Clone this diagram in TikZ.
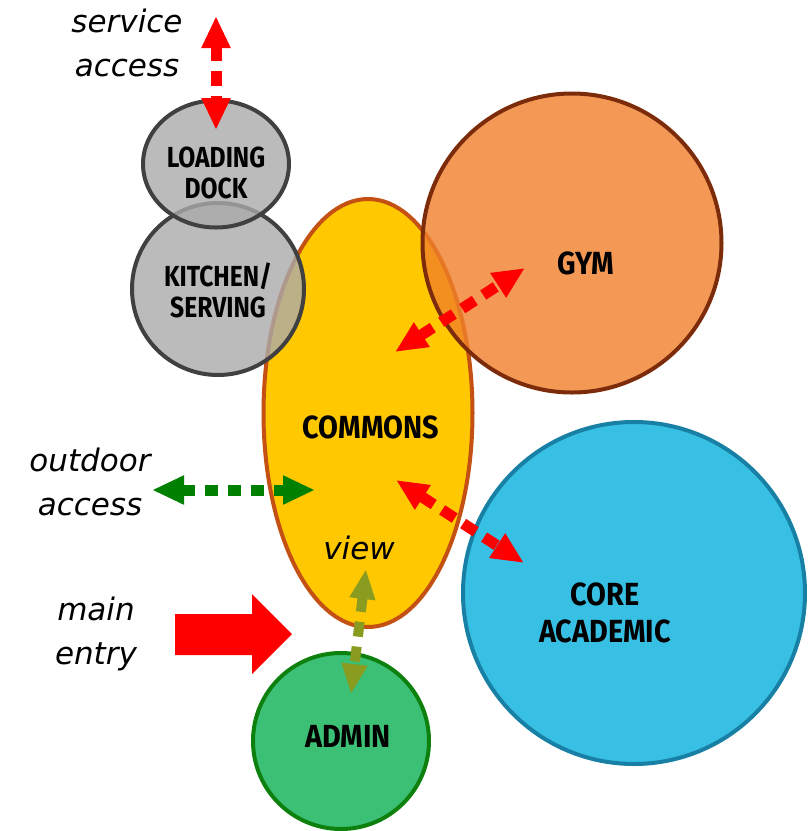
\documentclass[tikz,border=0pt]{standalone}
\usepackage{fontspec}
\usepackage{tikz}
\usetikzlibrary{shapes.geometric, arrows.meta, positioning}
\newfontfamily\handfont{DejaVu Sans}
\newfontfamily\roomfont[FakeStretch=0.85]{Fira Sans}
\newfontfamily\bigroomfont[FakeStretch=0.9]{Fira Sans}
\definecolor{dockgray}{RGB}{170, 170, 170}
\definecolor{dockline}{RGB}{64, 64, 64}
\definecolor{commonsfill}{RGB}{255, 200, 0}
\definecolor{commonsline}{RGB}{197, 80, 20}
\definecolor{gymfill}{RGB}{240, 128, 42}
\definecolor{gymline}{RGB}{124, 44, 10}
\definecolor{corefill}{RGB}{6, 176, 221}
\definecolor{coreline}{RGB}{24, 128, 164}
\definecolor{adminfill}{RGB}{11, 176, 84}
\definecolor{adminline}{RGB}{14, 128, 14}
\definecolor{viewolive}{RGB}{138, 156, 32}
\definecolor{outdoorgreen}{RGB}{0, 128, 0}

\begin{document}
\begin{tikzpicture}[
    x=1pt, y=-1pt,
    room/.style={ellipse, line width=4pt, fill opacity=0.8, inner sep=0pt},
    roomtext/.style={font=\roomfont\bfseries\fontsize{29}{31}\selectfont, align=center, inner sep=0pt},
    bigroomtext/.style={roomtext, font=\bigroomfont\bfseries\fontsize{32}{37}\selectfont},
    note/.style={font=\handfont\itshape\fontsize{31}{44}\selectfont, align=center, inner sep=0pt},
    link/.style={line width=11pt, dash pattern=on 15pt off 10pt,
        {Triangle[length=32pt,width=27pt]}-{Triangle[length=32pt,width=27pt]}}
]
    \useasboundingbox (0,0) rectangle (808,831);

    % Rooms
    \node[room, draw=commonsline, fill=commonsfill, fill opacity=1, minimum width=209pt, minimum height=428pt] (commons) at (368,413) {};
    \node[room, draw=dockline, fill=dockgray, minimum width=172pt, minimum height=172pt] (kitchen) at (218,289) {};
    \node[room, draw=dockline, fill=dockgray, minimum width=146pt, minimum height=127pt] (dock) at (216,164) {};
    \node[room, draw=gymline, fill=gymfill, minimum width=299pt, minimum height=299pt] (gym) at (572,243) {};
    \node[room, draw=coreline, fill=corefill, minimum width=342pt, minimum height=342pt] (core) at (634,593) {};
    \node[room, draw=adminline, fill=adminfill, minimum width=176pt, minimum height=176pt] (admin) at (341,741) {};

    % Room names
    \node[roomtext] (docktext) at (216,173) {LOADING\\DOCK};
    \node[roomtext] (kitchentext) at (218,290) {KITCHEN/\\SERVING};
    \node[bigroomtext] (gymtext) at (586,263) {GYM};
    \node[bigroomtext] (commonstext) at (371,427) {COMMONS};
    \node[bigroomtext] (coretext) at (605,613) {CORE\\ACADEMIC};
    \node[bigroomtext] (admintext) at (348,736) {ADMIN};

    % Notes
    \node[note] (service) at (127,43) {service\\access};
    \node[note] (outdoor) at (90,482) {outdoor\\access};
    \node[note] (mainentry) at (96,634) {main\\entry};
    \node[note] (view) at (359,548) {view};

    % Arrow ends
    \coordinate (serviceend) at (216,16);
    \coordinate (dockend) at (216,130);
    \coordinate (gymin) at (525,268);
    \coordinate (gymout) at (395,352);
    \coordinate (corein) at (524,563);
    \coordinate (coreout) at (396,480);
    \coordinate (outdoorend) at (152,490);
    \coordinate (commonsend) at (315,490);
    \coordinate (viewend) at (366,569);
    \coordinate (adminend) at (351,694);

    % Links
    \draw[link, red] (serviceend) -- (dockend);
    \draw[link, red] (gymout) -- (gymin);
    \draw[link, red] (coreout) -- (corein);
    \draw[link, outdoorgreen, dash pattern=on 13pt off 10pt] (outdoorend) -- (commonsend);
    \draw[link, viewolive, line width=10pt,
        {Triangle[length=30pt,width=24pt]}-{Triangle[length=30pt,width=24pt]}] (viewend) -- (adminend);

    % Main entry
    \fill[red] (175,614) -- (252,614) -- (252,594) -- (292,634) -- (252,674)
        -- (252,655) -- (175,655) -- cycle;
\end{tikzpicture}
\end{document}
